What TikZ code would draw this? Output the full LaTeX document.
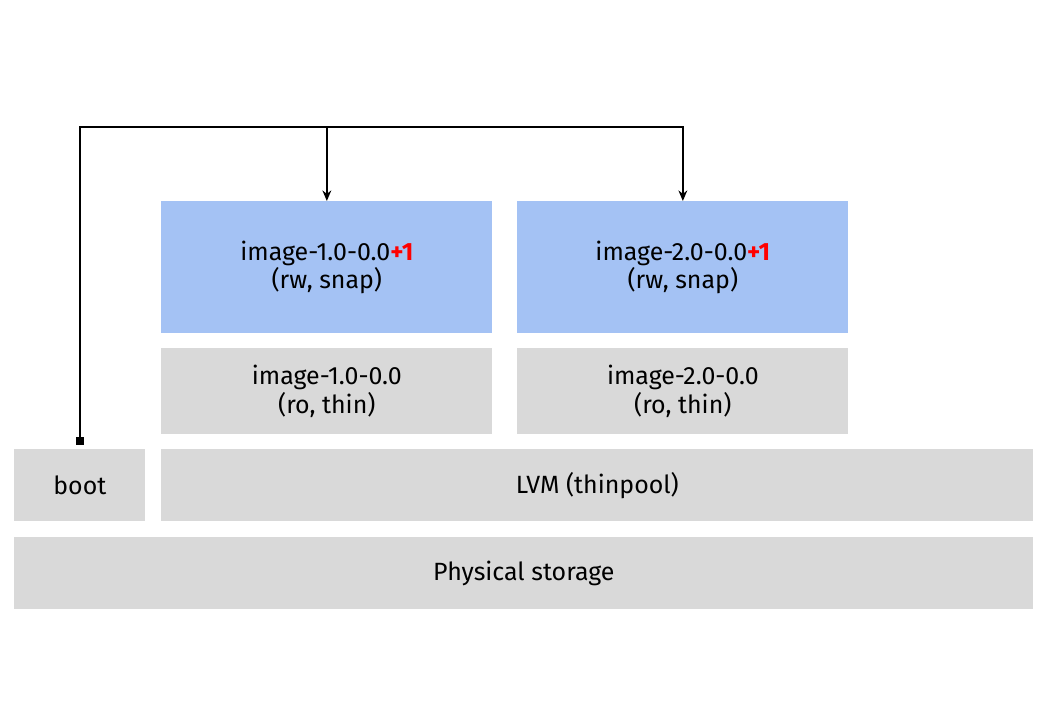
\documentclass[tikz,border=0pt]{standalone}
\usepackage{fontspec}
\setmainfont{Fira Sans}
\usetikzlibrary{arrows.meta}
\definecolor{snapblue}{HTML}{A4C2F4}
\definecolor{thingray}{HTML}{D9D9D9}
\def\px{0.02cm}
\tikzset{
  box/.style={rectangle, anchor=north west, inner sep=0pt, align=center, font=\fontsize{14.2}{16.4}\selectfont},
  snapbox/.style={box, fill=snapblue, minimum width={331*\px}, minimum height={132*\px}},
  thinbox/.style={box, fill=thingray, minimum width={331*\px}, minimum height={86*\px}},
  conn/.style={line width=1.1pt, -{Stealth[length=6pt,width=5pt]}}
}
\begin{document}
\begin{tikzpicture}[x=\px, y=-\px, line join=miter]
  \useasboundingbox (0,0) rectangle (1064,720);
  % volumes per image
  \foreach \i/\x in {1/161, 2/517} {
    \node[snapbox] (snap\i) at (\x,201) {image-\i.0-0.0\textcolor{red}{\bfseries+1}\\(rw, snap)};
    \node[thinbox] (thin\i) at (\x,348) {image-\i.0-0.0\\(ro, thin)};
  }
  % lower layers
  \node[box, fill=thingray, minimum width={131*\px}, minimum height={72*\px}] (boot) at (14,449) {boot};
  \node[box, fill=thingray, minimum width={872*\px}, minimum height={72*\px}] (lvm) at (161,449) {LVM (thinpool)};
  \node[box, fill=thingray, minimum width={1019*\px}, minimum height={72*\px}] (phys) at (14,537) {Physical storage};
  % boot entries
  \coordinate (bus) at (0,127);
  \draw[conn, {Square[length=4.5pt,width=4.5pt]}-{Stealth[length=6pt,width=5pt]}] ([yshift=4*\px]boot.north) -- (boot.north |- bus) -| (snap2.north);
  \draw[conn] (snap1.north |- bus) -- (snap1.north);
\end{tikzpicture}
\end{document}
